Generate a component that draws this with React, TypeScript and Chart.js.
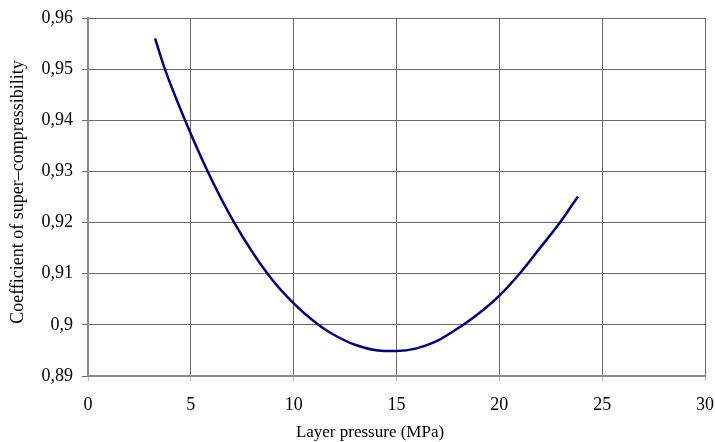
import React, { useEffect, useRef } from "react";
import { Chart, registerables } from "chart.js";

Chart.register(...registerables);

const pressure = [3.26, 3.74, 4.72, 5.82, 7.11, 8.73, 10.0, 11.2, 11.76, 12.98, 14.4, 15.0, 15.98, 16.95, 18.24, 19.06, 20.0, 21.0, 21.97, 22.95, 23.82];
const coefficient = [0.956, 0.95, 0.94, 0.93, 0.92, 0.91, 0.9042, 0.9, 0.8985, 0.8961, 0.8949, 0.8949, 0.8954, 0.8968, 0.9, 0.9024, 0.9057, 0.9101, 0.915, 0.92, 0.9251];

const xTitle = "Layer pressure (MPa)";
const yTitle = "Coefficient of super–compressibility";
const FONT = "'Liberation Serif', 'Times New Roman', serif";

export default function App() {
  const ref = useRef<HTMLCanvasElement | null>(null);

  useEffect(() => {
    if (!ref.current) return;
    const titles = {
      id: "titles",
      afterDraw(chart: any) {
        const ctx = chart.ctx;
        ctx.save();
        ctx.fillStyle = "#000";
        ctx.textAlign = "center";
        ctx.textBaseline = "middle";
        ctx.font = `17px ${FONT}`;
        ctx.fillText(xTitle, 370, 433);
        ctx.translate(18, 192);
        ctx.rotate(-Math.PI / 2);
        ctx.font = `18px ${FONT}`;
        ctx.fillText(yTitle, 0, 0);
        ctx.restore();
      },
    };
    const chart = new Chart(ref.current, {
      type: "line",
      data: {
        datasets: [
          {
            data: pressure.map((x, i) => ({ x, y: coefficient[i] })),
            borderColor: "#000080",
            borderWidth: 2.5,
            pointRadius: 0,
            cubicInterpolationMode: "monotone",
            fill: false,
          },
        ],
      },
      options: {
        responsive: false,
        animation: false,
        layout: { padding: { left: 0, top: 18, right: 10, bottom: 0 } },
        plugins: { legend: { display: false }, tooltip: { enabled: false } },
        scales: {
          x: {
            type: "linear",
            min: 0,
            max: 30,
            afterFit: (s: any) => {
              s.height = 66;
              s.paddingLeft = 0;
              s.paddingRight = 0;
            },
            ticks: {
              stepSize: 5,
              color: "#000",
              font: { family: FONT, size: 18 },
              padding: 13,
              maxRotation: 0,
            },
            grid: { color: "#6a6a6a", lineWidth: 1, tickColor: "#c0c0c0", tickLength: 5 },
            border: { color: "#8a8a8a", width: 2 },
          },
          y: {
            min: 0.89,
            max: 0.96,
            afterFit: (s: any) => {
              s.width = 88;
              s.paddingTop = 0;
              s.paddingBottom = 0;
            },
            ticks: {
              stepSize: 0.01,
              color: "#000",
              font: { family: FONT, size: 18 },
              padding: 9,
              callback: (v: any) => String(Math.round(Number(v) * 100) / 100).replace(".", ","),
            },
            grid: { color: "#6a6a6a", lineWidth: 1, tickColor: "#6a6a6a", tickLength: 6 },
            border: { color: "#8a8a8a", width: 2 },
          },
        },
      },
      plugins: [titles],
    });
    return () => chart.destroy();
  }, []);

  return (
    <div style={{ position: "absolute", left: 0, top: 0, width: 715, height: 442, background: "#fff" }}>
      <canvas ref={ref} width={715} height={442} style={{ width: 715, height: 442 }} />
    </div>
  );
}
